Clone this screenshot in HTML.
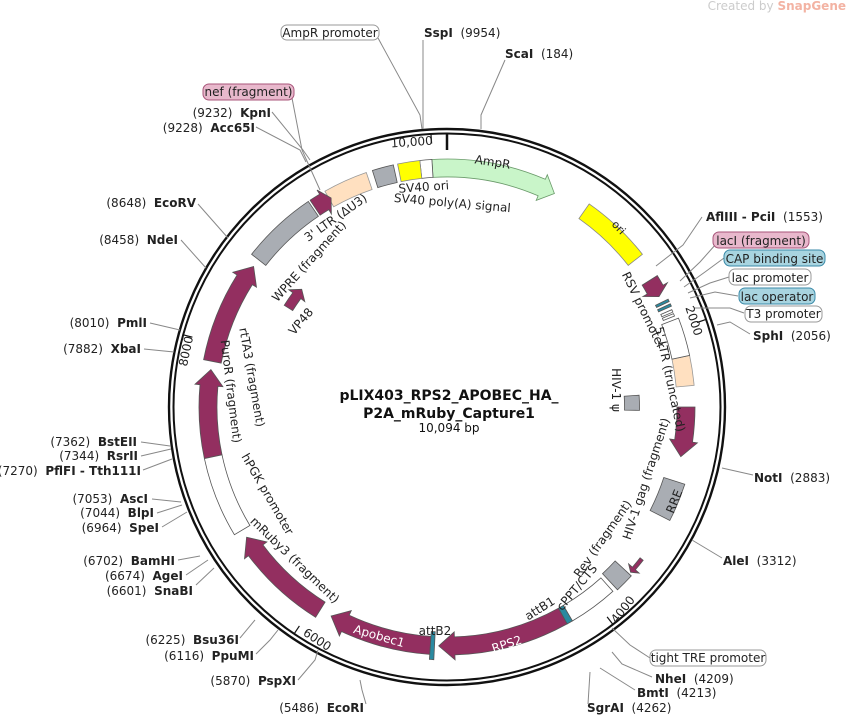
<!DOCTYPE html>
<html><head><meta charset="utf-8">
<style>
html,body{margin:0;padding:0;background:#fff;}
svg{display:block;font-family:"DejaVu Sans","Liberation Sans",sans-serif;}
.l{font-size:12px;fill:#222;}
.b{font-weight:bold;}
.f{font-size:12px;fill:#222;}
.ln{stroke:#888;stroke-width:1;fill:none;}
</style></head><body>
<svg id="s" width="848" height="716" viewBox="0 0 848 716" xmlns="http://www.w3.org/2000/svg">
<text x="846" y="10" text-anchor="end" font-size="12" fill="#ccc">Created by <tspan fill="#f3b3a3" font-weight="bold">SnapGene</tspan></text>
<g id="feat"></g>
<circle cx="447" cy="407" r="278" fill="none" stroke="#111" stroke-width="2.4"/>
<circle cx="447" cy="407" r="273.5" fill="none" stroke="#111" stroke-width="2"/>
<g id="ticks"></g>
<g class="ln">
<polyline points="378,38 420,115 422,129"/>
<polyline points="423,40 423,129"/>
<polyline points="505,60 481,115 481,129"/>
<polyline points="292,98 302,150 320,190"/>
<polyline points="272,112 303,150 310,160"/>
<polyline points="256,127 300,150 306,162"/>
<polyline points="198,204 228,238"/>
<polyline points="181,240 206,268"/>
<polyline points="150,323 180,330"/>
<polyline points="144,349 174,352"/>
<polyline points="141,442 170,446"/>
<polyline points="141,456 171,449"/>
<polyline points="143,470 172,459"/>
<polyline points="152,499 181,502"/>
<polyline points="157,513 182,505"/>
<polyline points="162,527 187,512"/>
<polyline points="178,560 200,556"/>
<polyline points="186,575 208,560"/>
<polyline points="196,585 214,568"/>
<polyline points="240,638 255,620"/>
<polyline points="256,654 270,640 278,630"/>
<polyline points="298,680 315,660 318,650"/>
<polyline points="366,704 362,690 360,680"/>
<polyline points="702,217 683,245 656,266"/>
<polyline points="716,244 700,262 680,281"/>
<polyline points="724,258 705,272 684,287"/>
<polyline points="729,277 710,283 688,293"/>
<polyline points="738,296 715,292 690,298"/>
<polyline points="744,313 730,308 694,308"/>
<polyline points="750,334 730,322 717,325"/>
<polyline points="753,475 722,468"/>
<polyline points="722,558 692,540"/>
<polyline points="650,658 630,645 612,628"/>
<polyline points="652,677 622,664 612,652"/>
<polyline points="635,690 600,668"/>
<polyline points="588,704 590,672"/>
</g>
<g font-size="12">
<rect x="281" y="25" width="98" height="15" rx="6" fill="#fff" stroke="#999"/>
<text x="330" y="37" text-anchor="middle" fill="#222">AmpR promoter</text>
<rect x="203" y="84" width="91" height="16" rx="6" fill="#e8b8cc" stroke="#a8557a"/>
<text x="248.5" y="96" text-anchor="middle" fill="#222">nef (fragment)</text>
<rect x="713" y="232" width="96" height="16" rx="6" fill="#e8b8cc" stroke="#a8557a"/>
<text x="761" y="245" text-anchor="middle" fill="#222">lacI (fragment)</text>
<rect x="724" y="250" width="101" height="16" rx="6" fill="#a8d4e0" stroke="#3a8aa8"/>
<text x="774.5" y="263" text-anchor="middle" fill="#222">CAP binding site</text>
<rect x="729" y="269" width="82" height="16" rx="6" fill="#fff" stroke="#999"/>
<text x="770" y="282" text-anchor="middle" fill="#222">lac promoter</text>
<rect x="739" y="288" width="76" height="16" rx="6" fill="#a8d4e0" stroke="#3a8aa8"/>
<text x="777" y="301" text-anchor="middle" fill="#222">lac operator</text>
<rect x="745" y="306" width="77" height="16" rx="6" fill="#fff" stroke="#999"/>
<text x="783.5" y="318" text-anchor="middle" fill="#222">T3 promoter</text>
<rect x="650" y="650" width="116" height="16" rx="6" fill="#fff" stroke="#999"/>
<text x="708" y="662" text-anchor="middle" fill="#222">tight TRE promoter</text>
</g>
<g class="l">
<text x="424" y="37"><tspan class="b">SspI</tspan>&#160;&#160;(9954)</text>
<text x="505" y="58"><tspan class="b">ScaI</tspan>&#160;&#160;(184)</text>
<text x="271" y="117" text-anchor="end">(9232)&#160;&#160;<tspan class="b">KpnI</tspan></text>
<text x="255" y="132" text-anchor="end">(9228)&#160;&#160;<tspan class="b">Acc65I</tspan></text>
<text x="196" y="207" text-anchor="end">(8648)&#160;&#160;<tspan class="b">EcoRV</tspan></text>
<text x="178" y="244" text-anchor="end">(8458)&#160;&#160;<tspan class="b">NdeI</tspan></text>
<text x="147" y="327" text-anchor="end">(8010)&#160;&#160;<tspan class="b">PmlI</tspan></text>
<text x="141" y="353" text-anchor="end">(7882)&#160;&#160;<tspan class="b">XbaI</tspan></text>
<text x="137" y="446" text-anchor="end">(7362)&#160;&#160;<tspan class="b">BstEII</tspan></text>
<text x="138" y="460" text-anchor="end">(7344)&#160;&#160;<tspan class="b">RsrII</tspan></text>
<text x="141" y="475" text-anchor="end">(7270)&#160;&#160;<tspan class="b">PflFI - Tth111I</tspan></text>
<text x="148" y="503" text-anchor="end">(7053)&#160;&#160;<tspan class="b">AscI</tspan></text>
<text x="154" y="517" text-anchor="end">(7044)&#160;&#160;<tspan class="b">BlpI</tspan></text>
<text x="159" y="532" text-anchor="end">(6964)&#160;&#160;<tspan class="b">SpeI</tspan></text>
<text x="175" y="565" text-anchor="end">(6702)&#160;&#160;<tspan class="b">BamHI</tspan></text>
<text x="183" y="580" text-anchor="end">(6674)&#160;&#160;<tspan class="b">AgeI</tspan></text>
<text x="193" y="595" text-anchor="end">(6601)&#160;&#160;<tspan class="b">SnaBI</tspan></text>
<text x="239" y="644" text-anchor="end">(6225)&#160;&#160;<tspan class="b">Bsu36I</tspan></text>
<text x="254" y="660" text-anchor="end">(6116)&#160;&#160;<tspan class="b">PpuMI</tspan></text>
<text x="296" y="685" text-anchor="end">(5870)&#160;&#160;<tspan class="b">PspXI</tspan></text>
<text x="364" y="712" text-anchor="end">(5486)&#160;&#160;<tspan class="b">EcoRI</tspan></text>
<text x="706" y="221"><tspan class="b">AflIII - PciI</tspan>&#160;&#160;(1553)</text>
<text x="753" y="340"><tspan class="b">SphI</tspan>&#160;&#160;(2056)</text>
<text x="754" y="482"><tspan class="b">NotI</tspan>&#160;&#160;(2883)</text>
<text x="723" y="565"><tspan class="b">AleI</tspan>&#160;&#160;(3312)</text>
<text x="655" y="683"><tspan class="b">NheI</tspan>&#160;&#160;(4209)</text>
<text x="637" y="697"><tspan class="b">BmtI</tspan>&#160;&#160;(4213)</text>
<text x="587" y="712"><tspan class="b">SgrAI</tspan>&#160;&#160;(4262)</text>
</g>
<g class="f">
<text transform="translate(492,166) rotate(9)" text-anchor="middle">AmpR</text>
<text transform="translate(616,230) rotate(47)" text-anchor="middle" font-size="11">ori</text>
<text transform="translate(424,191) rotate(-4)" text-anchor="middle">SV40 ori</text>
<text transform="translate(452,207) rotate(5)" text-anchor="middle">SV40 poly(A) signal</text>
<text transform="translate(338,221) rotate(-35)" text-anchor="middle">3' LTR (ΔU3)</text>
<text transform="translate(312,264) rotate(-48)" text-anchor="middle">WPRE (fragment)</text>
<text transform="translate(304,324) rotate(-50)" text-anchor="middle">VP48</text>
<text transform="translate(248,378) rotate(80)" text-anchor="middle">rtTA3 (fragment)</text>
<text transform="translate(227,392) rotate(83)" text-anchor="middle">PuroR (fragment)</text>
<text transform="translate(264,496) rotate(60)" text-anchor="middle">hPGK promoter</text>
<text transform="translate(292,563) rotate(44)" text-anchor="middle">mRuby3 (fragment)</text>
<text transform="translate(378,640) rotate(16)" text-anchor="middle" fill="#fff">Apobec1</text>
<text transform="translate(508,648) rotate(-18)" text-anchor="middle" fill="#fff">RPS2</text>
<text x="435" y="635" text-anchor="middle">attB2</text>
<text transform="translate(542,612) rotate(-32)" text-anchor="middle">attB1</text>
<text transform="translate(580,590) rotate(-50)" text-anchor="middle">cPPT/CTS</text>
<text transform="translate(606,541) rotate(-55)" text-anchor="middle">Rev (fragment)</text>
<text transform="translate(650,480) rotate(-72)" text-anchor="middle">HIV-1 gag (fragment)</text>
<text transform="translate(678,503) rotate(-68)" text-anchor="middle">RRE</text>
<text transform="translate(612,390) rotate(90)" text-anchor="middle">HIV-1 ψ</text>
<text transform="translate(666,380) rotate(78)" text-anchor="middle">5' LTR (truncated)</text>
<text transform="translate(640,312) rotate(64)" text-anchor="middle">RSV promoter</text>
<text transform="translate(412,146) rotate(-4)" text-anchor="middle">10,000</text>
<text transform="translate(690,322) rotate(72)" text-anchor="middle">2000</text>
<text transform="translate(626,612) rotate(-52)" text-anchor="middle">4000</text>
<text transform="translate(315,643) rotate(33)" text-anchor="middle">6000</text>
<text transform="translate(190,352) rotate(-78)" text-anchor="middle">8000</text>
</g>
<g text-anchor="middle" fill="#111">
<text x="449" y="400" font-size="14" font-weight="bold">pLIX403_RPS2_APOBEC_HA_</text>
<text x="449" y="418" font-size="14" font-weight="bold">P2A_mRuby_Capture1</text>
<text x="449" y="432" font-size="12">10,094 bp</text>
</g>
</svg>
<script>
var cx=447,cy=407,NS="http://www.w3.org/2000/svg";
function P(a,r){a=a*Math.PI/180;return [(cx+r*Math.sin(a)).toFixed(1),(cy-r*Math.cos(a)).toFixed(1)];}
function arc(a1,a2,r,sweep){var p=P(a2,r);var large=Math.abs(a2-a1)>180?1:0;return "A"+r+","+r+" 0 "+large+","+sweep+" "+p[0]+","+p[1];}
function feat(a1,a2,fill,opt){opt=opt||{};var R=opt.r||239,w=opt.w||9,g=document.getElementById("feat");var d;
 if(opt.head){var h=(opt.hl||14)/R*180/Math.PI;var b=a2-h;if(b<a1)b=a1;var hw=w+5;
  var s=P(a1,R+w);d="M"+s.join(",")+arc(a1,b,R+w,1)+"L"+P(b,R+hw).join(",")+"L"+P(a2,R).join(",")+"L"+P(b,R-hw).join(",")+"L"+P(b,R-w).join(",")+arc(b,a1,R-w,0)+"Z";}
 else{var s=P(a1,R+w);d="M"+s.join(",")+arc(a1,a2,R+w,1)+"L"+P(a2,R-w).join(",")+arc(a2,a1,R-w,0)+"Z";}
 var e=document.createElementNS(NS,"path");e.setAttribute("d",d);e.setAttribute("fill",fill);e.setAttribute("stroke",opt.st||"#555");e.setAttribute("stroke-width","0.8");g.appendChild(e);}
var M="#932f60",G="#a9adb3";
feat(356.5,386.7,"#c9f5c9",{head:1,st:"#6a9a6a"});
feat(353.7,356.5,"#fff");
feat(348.5,353.7,"#ffff00",{st:"#888"});
feat(342.5,347.5,G);
feat(330.5,341,"#ffe0c0",{st:"#999"});
feat(326.5,331,M,{head:1,hl:8});
feat(308,326,G);
feat(281,306,M,{head:1,hl:16});
feat(258,279,M,{head:1,hl:16});
feat(239,258,"#fff");
feat(212,237,M,{head:1,hl:16});
feat(184,209,M,{head:1,hl:16});
feat(183,184,"#2a8aa0",{w:14});
feat(151,182,M,{head:1,hl:16});
feat(149.6,151,"#2a8aa0");
feat(138,149.6,"#fff");
feat(132.5,137,G,{w:11});
feat(128,132,M,{head:1,hl:5,w:2,r:247});
feat(108,117,G,{w:11});
feat(90,102,M,{head:1,hl:16});
feat(78,85,"#ffe0c0",{st:"#999"});
feat(69,78,"#fff");
feat(67.6,68.2,"#fff",{w:6});feat(66.6,67.2,"#fff",{w:6});
feat(65.2,65.8,"#2a8aa0",{w:7});feat(64,64.6,"#2a8aa0",{w:7});
feat(58,62.5,M,{head:1,hl:8});
feat(35,52,"#ffff00",{st:"#888"});
feat(302,309,M,{head:1,hl:8,r:187,w:5});
feat(86.5,91,G,{r:185,w:7.5});
var t=document.getElementById("ticks");
function tick(a,r1,r2,w){var p=P(a,r1),q=P(a,r2);var l=document.createElementNS(NS,"line");l.setAttribute("x1",p[0]);l.setAttribute("y1",p[1]);l.setAttribute("x2",q[0]);l.setAttribute("y2",q[1]);l.setAttribute("stroke","#111");l.setAttribute("stroke-width",w);t.appendChild(l);}
tick(0,273,257,2.5);
[356.65,71.33,142.66,213.99,285.32].forEach(function(a){tick(a,273,264,1.2);});
</script>
</body></html>
